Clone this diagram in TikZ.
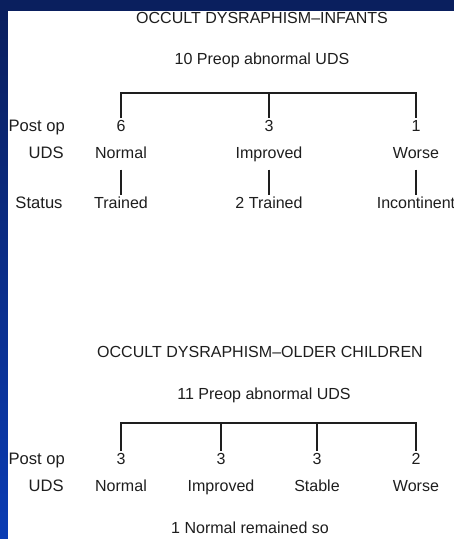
\documentclass[tikz,border=0pt]{standalone}
\usepackage{fontspec}
\setmainfont{Liberation Sans}
\usepackage{xcolor}
\usetikzlibrary{positioning}
\definecolor{navy}{HTML}{0A1F5E}
\definecolor{slideblue}{HTML}{0A3CB4}
\definecolor{ink}{HTML}{1E1E1E}
\tikzstyle{title} = [font=\fontsize{11.4}{13}\selectfont, text=ink, inner sep=2pt]
\tikzstyle{entry} = [font=\fontsize{11.4}{13}\selectfont, text=ink, text centered, text height=1.4ex, text depth=0.4ex, inner sep=2pt]
\tikzstyle{rowlabel} = [font=\fontsize{11.8}{13}\selectfont, text=ink, anchor=east, text height=1.4ex, text depth=0.4ex, inner sep=0pt]
\tikzstyle{line} = [draw, draw=ink, line width=1.2pt]

\begin{document}
\begin{tikzpicture}
    % Background
    \fill [navy] (0,0) rectangle (11.35,-13.475);
    \shade [top color=navy, bottom color=slideblue] (0,-0.275) rectangle (0.2,-13.475);
    \fill [white] (0.2,-0.275) rectangle (11.35,-13.475);
    \useasboundingbox (0,0) rectangle (11.35,-13.475);

    % Infants
    \node [title] (title1) at (6.55,-0.45) {OCCULT DYSRAPHISM--INFANTS};
    \node [title] (preop1) at (6.55,-1.5) {10 Preop abnormal UDS};
    \coordinate (bar1) at (0,-2.325);
    \node [entry] (a1) at (3.025,-3.2) {6};
    \node [entry] (a2) at (6.725,-3.2) {3};
    \node [entry] (a3) at (10.4,-3.2) {1};
    \node [entry] (u1) at (3.025,-3.875) {Normal};
    \node [entry] (u2) at (6.725,-3.875) {Improved};
    \node [entry] (u3) at (10.4,-3.875) {Worse};
    \node [entry] (s1) at (3.025,-5.125) {Trained};
    \node [entry] (s2) at (6.725,-5.125) {2 Trained};
    \node [entry] (s3) at (10.4,-5.125) {Incontinent};
    \node [rowlabel] (postlbl1) at (1.63,-3.2) {Post op};
    \node [rowlabel] (udslbl1) at (1.6,-3.875) {UDS};
    \node [rowlabel] (statuslbl) at (1.57,-5.125) {Status};

    % Older children
    \node [title] (title2) at (6.5,-8.8) {OCCULT DYSRAPHISM--OLDER CHILDREN};
    \node [title] (preop2) at (6.6,-9.875) {11 Preop abnormal UDS};
    \coordinate (bar2) at (0,-10.575);
    \node [entry] (b1) at (3.025,-11.525) {3};
    \node [entry] (b2) at (5.525,-11.525) {3};
    \node [entry] (b3) at (7.925,-11.525) {3};
    \node [entry] (b4) at (10.4,-11.525) {2};
    \node [entry] (v1) at (3.025,-12.2) {Normal};
    \node [entry] (v2) at (5.525,-12.2) {Improved};
    \node [entry] (v3) at (7.925,-12.2) {Stable};
    \node [entry] (v4) at (10.4,-12.2) {Worse};
    \node [rowlabel] (postlbl2) at (1.63,-11.525) {Post op};
    \node [rowlabel] (udslbl2) at (1.6,-12.2) {UDS};
    \node [title] (remained) at (6.25,-13.2) {1 Normal remained so};

    % Edges
    \path [line] (a1.north) -- (a1.north |- bar1) -- (a3.north |- bar1) -- (a3.north);
    \path [line] (a2.north |- bar1) -- (a2.north);
    \path [line, shorten <=1.2mm] (u1) -- (s1);
    \path [line, shorten <=1.2mm] (u2) -- (s2);
    \path [line, shorten <=1.2mm] (u3) -- (s3);
    \path [line] (b1.north) -- (b1.north |- bar2) -- (b4.north |- bar2) -- (b4.north);
    \path [line] (b2.north |- bar2) -- (b2.north);
    \path [line] (b3.north |- bar2) -- (b3.north);
\end{tikzpicture}
\end{document}
